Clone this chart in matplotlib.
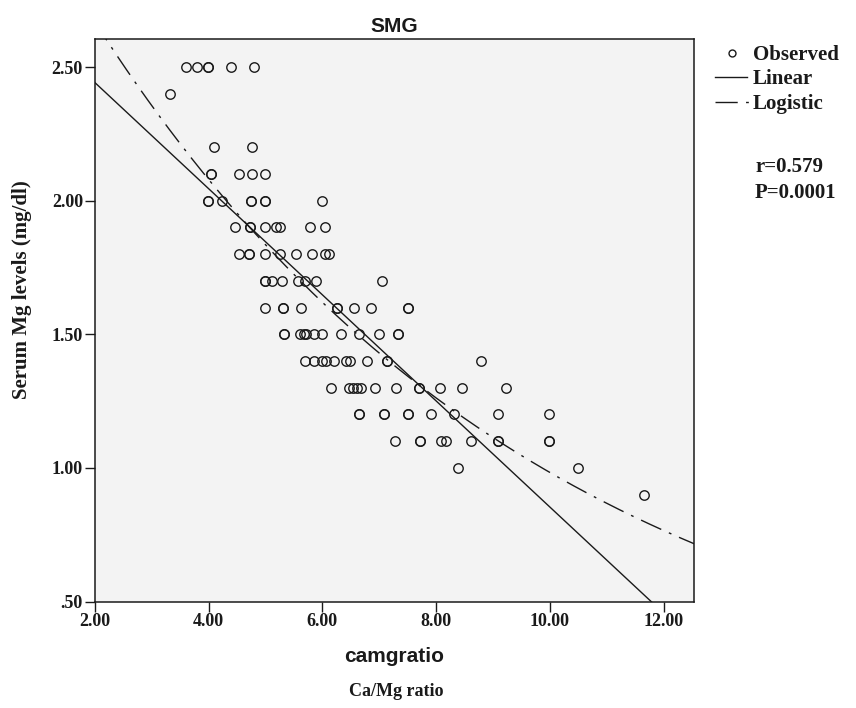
import numpy as np
import matplotlib
matplotlib.use("Agg")
import matplotlib.pyplot as plt
from matplotlib.lines import Line2D

# Observed Ca/Mg ratio (x) and serum Mg (y), grouped by Mg level
mg_levels = [2.50, 2.40, 2.20, 2.10, 2.00, 1.90, 1.80, 1.70, 1.60, 1.50,
             1.40, 1.30, 1.20, 1.10, 1.00, 0.90]
ratio_by_level = [
    [3.60, 3.79, 3.99, 3.99, 4.40, 4.80],
    [3.32],
    [4.09, 4.76],
    [4.04, 4.04, 4.53, 4.76, 5.00],
    [3.99, 3.99, 4.24, 4.75, 4.75, 5.00, 5.00, 5.99],
    [4.47, 4.72, 4.72, 5.00, 5.19, 5.25, 5.78, 6.04],
    [4.54, 4.71, 4.71, 5.00, 5.26, 5.54, 5.82, 6.04, 6.12],
    [4.99, 4.99, 5.11, 5.29, 5.57, 5.69, 5.88, 7.05],
    [4.99, 5.31, 5.31, 5.62, 6.25, 6.25, 6.55, 6.86, 7.50, 7.50],
    [5.33, 5.33, 5.61, 5.67, 5.71, 5.86, 6.00, 6.33, 6.65, 6.99, 7.33, 7.33],
    [5.69, 5.85, 6.00, 6.06, 6.21, 6.41, 6.48, 6.78, 7.13, 7.13, 8.78],
    [6.15, 6.46, 6.53, 6.60, 6.68, 6.92, 7.30, 7.69, 7.69, 8.06, 8.46, 9.22],
    [6.65, 6.65, 7.08, 7.08, 7.50, 7.50, 7.91, 8.32, 9.08, 9.99],
    [7.27, 7.71, 7.71, 8.08, 8.18, 8.62, 9.08, 9.08, 9.99, 9.99],
    [8.39, 10.49],
    [11.65],
]

# Fitted curves
linear_intercept = 2.840
linear_slope = -0.1987
logistic_b0 = 0.2917
logistic_b1 = 1.1331

x_ticks = [2, 4, 6, 8, 10, 12]
x_ticklabels = ["2.00", "4.00", "6.00", "8.00", "10.00", "12.00"]
y_ticks = [0.5, 1.0, 1.5, 2.0, 2.5]
y_ticklabels = [".50", "1.00", "1.50", "2.00", "2.50"]

ratio = np.array([r for grp in ratio_by_level for r in grp])
mg = np.array([lv for lv, grp in zip(mg_levels, ratio_by_level) for _ in grp])

W, H = 856, 708
fig = plt.figure(figsize=(W / 100, H / 100), dpi=100)
fig.patch.set_facecolor("white")

left, right, bottom, top = 94.7, 694, 601.5, 39
ax = fig.add_axes([left / W, 1 - bottom / H, (right - left) / W, (bottom - top) / H])
ax.set_facecolor("#f3f3f3")

serif = ["Liberation Serif", "DejaVu Serif"]
sans = ["Liberation Sans", "DejaVu Sans"]
ink = "#1a1a1a"

ax.plot(ratio, mg, ls="none", marker="o", ms=6.8, mfc="none", mec=ink, mew=1.0, zorder=3)

xs = np.linspace(2.0, 12.6, 400)
ax.plot(xs, linear_intercept + linear_slope * xs, color=ink, lw=1.0, zorder=4)
dashdot = (0, (16, 6, 2, 6))
ax.plot(xs, 1.0 / (logistic_b0 * logistic_b1 ** xs), color=ink, lw=1.0, ls=dashdot, zorder=4)

ax.set_xlim(2.0, 12.53)
ax.set_ylim(0.5, 2.605)
ax.set_xticks(x_ticks)
ax.set_xticklabels(x_ticklabels)
ax.set_yticks(y_ticks)
ax.set_yticklabels(y_ticklabels)
ax.tick_params(direction="out", length=7, width=1.0, color=ink, pad=1.5)
for lab in ax.get_xticklabels() + ax.get_yticklabels():
    lab.set_fontfamily(serif)
    lab.set_fontweight("bold")
    lab.set_fontsize(13)
    lab.set_color(ink)
for sp in ax.spines.values():
    sp.set_linewidth(1.1)
    sp.set_color(ink)

ax.set_xlabel("camgratio", fontfamily=sans, fontweight="bold", fontsize=15, color=ink, labelpad=12)
ax.set_title("SMG", fontfamily=sans, fontweight="bold", fontsize=15, color=ink, pad=5)

fig.text(396 / W, 1 - 692 / H, "Ca/Mg ratio", ha="center", va="center",
         fontfamily=serif, fontweight="bold", fontsize=13, color=ink)
fig.text(22 / W, 1 - 290 / H, "Serum Mg levels (mg/dl)", ha="center", va="center",
         rotation=90, fontfamily=serif, fontweight="bold", fontsize=15, color=ink)

# Legend, drawn beside the plot area
fig.add_artist(Line2D([731.7 / W], [1 - 53.3 / H], ls="none", marker="o", ms=5,
                      mfc="none", mec=ink, mew=1.0, transform=fig.transFigure))
fig.add_artist(Line2D([715 / W, 747 / W], [1 - 77.3 / H] * 2, color=ink, lw=1.0,
                      transform=fig.transFigure))
fig.add_artist(Line2D([715 / W, 748.5 / W], [1 - 102.3 / H] * 2, color=ink, lw=1.0,
                      ls=dashdot, transform=fig.transFigure))
for label, yc in [("Observed", 55), ("Linear", 79), ("Logistic", 104)]:
    fig.text(753 / W, 1 - yc / H, label, ha="left", va="center",
             fontfamily=serif, fontweight="bold", fontsize=15, color=ink)

fig.text(755 / W, 1 - 167 / H, "r=0.579", ha="left", va="center",
         fontfamily=serif, fontweight="bold", fontsize=15, color=ink)
fig.text(755 / W, 1 - 193 / H, "P=0.0001", ha="left", va="center",
         fontfamily=serif, fontweight="bold", fontsize=15, color=ink)

fig.savefig("out.png", dpi=100)
